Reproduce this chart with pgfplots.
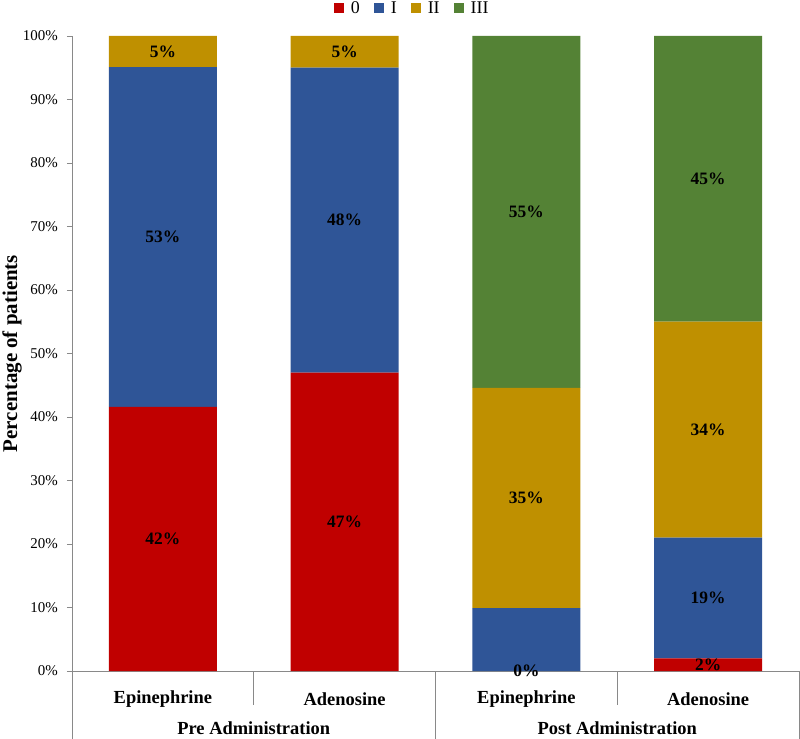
\documentclass[border=0pt]{standalone}
\usepackage{pgfplots}
\pgfplotsset{compat=1.18}
\usepackage{fontspec}
\setmainfont{Liberation Serif}
\definecolor{cZero}{HTML}{C00000}
\definecolor{cOne}{HTML}{2F5597}
\definecolor{cTwo}{HTML}{BF9000}
\definecolor{cThree}{HTML}{548235}
\definecolor{axgray}{HTML}{898989}
\begin{document}
\begin{tikzpicture}
\pgfplotsset{
  common/.style={
    scale only axis, width=727bp, height=635bp,
    xmin=-0.5, xmax=3.5, ymin=0, ymax=100,
    at={(0,0)}, anchor=south west, clip=false,
  }
}
\begin{axis}[common,
  ybar stacked, bar width=108bp,
  axis x line*=bottom, axis y line*=left,
  axis line style={axgray, line width=0.8bp},
  ytick={0,10,...,100},
  yticklabels={0\%,10\%,20\%,30\%,40\%,50\%,60\%,70\%,80\%,90\%,100\%},
  tick align=outside, major tick length=5bp,
  ytick style={axgray, line width=0.8bp},
  yticklabel style={font=\fontsize{15}{18}\selectfont, anchor=east, inner sep=0pt, xshift=-9bp},
  xtick={0,1,2,3},
  xticklabels={Epinephrine,Adenosine,Epinephrine,Adenosine},
  xtick style={draw=none},
  xticklabel style={font=\bfseries\fontsize{18.5}{22}\selectfont, anchor=center, yshift=-23bp},
  ylabel={Percentage of patients},
  every axis y label/.style={at={(axis description cs:-0.0825,0.5)}, rotate=90, anchor=center, font=\bfseries\fontsize{21}{25}\selectfont},
  legend style={at={(axis description cs:0.468,1.044)}, anchor=center, draw=none, fill=none,
    legend columns=-1, font=\fontsize{18}{21}\selectfont, inner sep=0pt,
    /tikz/every odd column/.append style={column sep=5bp},
    /tikz/every even column/.append style={column sep=12bp}},
  legend image code/.code={\fill[#1] (0bp,-5bp) rectangle (10bp,5bp);},
]
\addplot[fill=cZero, draw=none] coordinates {(0,41.6) (1,47) (2,0) (3,2)};
\addplot[fill=cOne, draw=none] coordinates {(0,53.5) (1,48) (2,9.9) (3,19)};
\addplot[fill=cTwo, draw=none] coordinates {(0,4.9) (1,5) (2,34.7) (3,34)};
\addplot[fill=cThree, draw=none] coordinates {(0,0) (1,0) (2,55.4) (3,45)};
\legend{0,I,II,III}
\draw[axgray, line width=0.8bp] (axis cs:-0.5,0) -- ([yshift=-68bp]axis cs:-0.5,0);
\draw[axgray, line width=0.8bp] (axis cs:0.5,0) -- ([yshift=-34bp]axis cs:0.5,0);
\draw[axgray, line width=0.8bp] (axis cs:1.5,0) -- ([yshift=-68bp]axis cs:1.5,0);
\draw[axgray, line width=0.8bp] (axis cs:2.5,0) -- ([yshift=-34bp]axis cs:2.5,0);
\draw[axgray, line width=0.8bp] (axis cs:3.5,0) -- ([yshift=-68bp]axis cs:3.5,0);
\node[font=\bfseries\fontsize{18.5}{22}\selectfont, anchor=center, yshift=-57bp] at (axis cs:0.5,0) {Pre Administration};
\node[font=\bfseries\fontsize{18.5}{22}\selectfont, anchor=center, yshift=-57bp] at (axis cs:2.5,0) {Post Administration};
\end{axis}
\begin{axis}[common, hide axis]
\addplot[draw=none, mark=none, nodes near coords, point meta=explicit symbolic,
  every node near coord/.append style={anchor=center, font=\bfseries\fontsize{17.5}{20}\selectfont, inner sep=0pt, text=black}]
coordinates {
 (0,20.8)[42\%] (0,68.35)[53\%] (0,97.55)[5\%]
 (1,23.5)[47\%] (1,71)[48\%] (1,97.5)[5\%]
 (2,0)[0\%] (2,27.25)[35\%] (2,72.3)[55\%]
 (3,1)[2\%] (3,11.5)[19\%] (3,38)[34\%] (3,77.5)[45\%]
};
\end{axis}
\pgfresetboundingbox
\path (-72bp,-68bp) rectangle (728bp,671bp);
\end{tikzpicture}
\end{document}
